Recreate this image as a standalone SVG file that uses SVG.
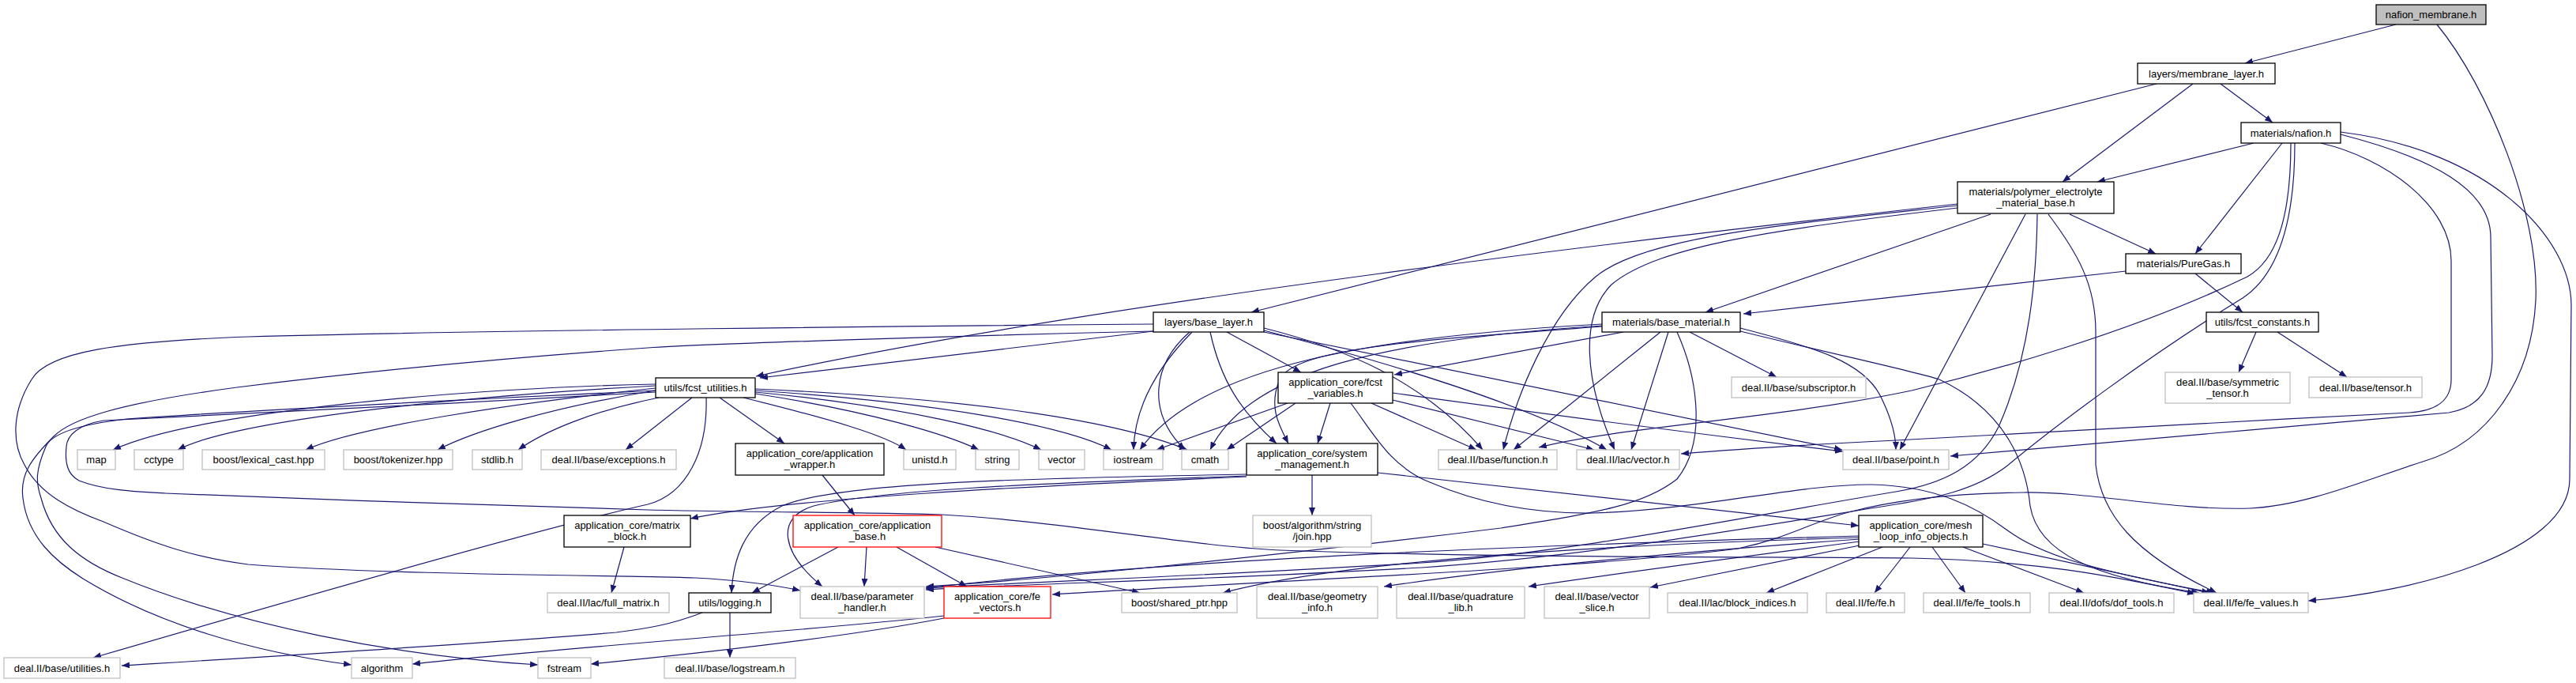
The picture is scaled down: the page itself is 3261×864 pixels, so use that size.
<svg xmlns="http://www.w3.org/2000/svg" width="3261" height="864" viewBox="0 0 3261 864">
<defs>
<marker id="a" markerWidth="10" markerHeight="8" refX="10" refY="4" orient="auto" markerUnits="userSpaceOnUse"><path d="M0,0 L10,4 L0,8 z" fill="#191970"/></marker>
<style>
.e path{fill:none;stroke:#191970;stroke-width:1.2;marker-end:url(#a)}
.n rect{fill:#fff;stroke:#000;stroke-width:1.3}
.g rect{fill:#fff;stroke:#bfbfbf;stroke-width:1.3}
.r rect{fill:#fff;stroke:#ff0000;stroke-width:1.3}
.root rect{fill:#bfbfbf;stroke:#000;stroke-width:1.3}
text{font-family:"Liberation Sans",Arial,sans-serif;font-size:13px;text-anchor:middle;fill:#000}
</style>
</defs>
<rect width="3261" height="864" fill="#fff"/>
<g id="edges" class="e">
<path d="M3033,31 L2842,80"/>
<path d="M3085,31 C3150,110 3215,270 3210,380 C3205,480 3150,560 3067,584 C3000,605 2920,640 2848,643 C2750,646 2650,622 2561,623 C2470,624 2400,632 2340,648 C2290,662 2265,680 2200,694 C2000,720 1600,735 1332,752"/>
<path d="M2730,106 L1584,395"/>
<path d="M2776,106 L2611,230"/>
<path d="M2811,106 L2877,155"/>
<path d="M2853,181 L2655,230"/>
<path d="M2889,181 L2779,321"/>
<path d="M2900,181 C2900,280 2880,330 2845,350 C2700,420 2520,470 2420,494 C2250,530 2050,540 1948,566"/>
<path d="M2905,181 C2905,290 2880,350 2839,377 C2720,450 2600,540 2540,590 C2500,620 2450,630 2400,638 C2200,670 2000,705 1800,718 C1500,735 1300,738 1172,746"/>
<path d="M2938,181 C3020,200 3103,260 3103,330 L3103,480 C3103,510 3080,520 3050,522 C2800,535 2500,550 2400,557 C2300,562 2200,568 2128,574"/>
<path d="M2963,170 C3080,200 3153,240 3153,300 L3155,450 C3155,490 3140,515 3100,522 C2900,540 2600,565 2469,577"/>
<path d="M2963,167 C3150,190 3255,300 3255,386 L3253,606 C3253,700 3050,750 2922,760"/>
<path d="M2478,258 C2100,300 1400,380 957,476"/>
<path d="M2478,260 C2250,285 2080,300 2020,350 C1960,400 1920,500 1903,569"/>
<path d="M2478,263 C2250,290 2100,310 2040,360 C2000,400 2005,480 2044,569"/>
<path d="M2520,271 L2159,395"/>
<path d="M2564,271 L2405,569"/>
<path d="M2579,271 C2578,350 2570,450 2530,540 C2505,590 2460,612 2400,622 C2200,655 2000,698 1800,712 C1500,730 1300,736 1172,744"/>
<path d="M2593,271 C2630,320 2653,360 2653,420 L2653,588 C2660,650 2700,700 2806,750"/>
<path d="M2620,271 L2729,321"/>
<path d="M2691,343 L2207,397"/>
<path d="M2779,346 L2839,395"/>
<path d="M2856,420 L2834,471"/>
<path d="M2883,420 L2971,477"/>
<path d="M2055,420 L1765,474"/>
<path d="M2028,413 C1800,430 1640,440 1620,480 C1605,515 1620,540 1631,561"/>
<path d="M2028,410 C1750,425 1520,460 1443,569"/>
<path d="M2028,412 C1750,430 1580,470 1532,569"/>
<path d="M2102,420 L1916,569"/>
<path d="M2112,420 L2065,569"/>
<path d="M2139,420 L2249,477"/>
<path d="M2203,415 C2300,440 2358,458 2380,500 C2395,530 2400,550 2400,569"/>
<path d="M2203,419 C2330,450 2420,469 2455,480 C2540,520 2565,588 2570,640 C2580,700 2650,730 2784,750"/>
<path d="M2123,420 C2150,480 2160,560 2123,606 C2080,640 2018,649 1900,668 C1600,705 1300,735 1172,742"/>
<path d="M1460,419 L962,478"/>
<path d="M1460,410 C1200,412 600,418 314,426 C150,432 60,445 40,480 C15,520 15,560 31,588 C50,625 90,645 131,660 C200,690 250,706 314,714 C500,728 820,728 880,731 C940,734 980,740 1013,747"/>
<path d="M1460,419 C1200,425 900,435 820,440 C650,452 470,469 300,490 C150,510 90,530 68,552 C40,580 25,600 29,630 C35,680 70,710 105,732 C200,790 320,825 445,841"/>
<path d="M830,494 C600,505 300,520 160,530 C100,537 65,548 58,565 C45,595 45,610 52,630 C65,680 100,710 157,732 C300,790 500,830 681,841"/>
<path d="M830,496 C600,510 250,525 131,532 C100,537 85,550 84,565 C82,585 85,600 100,608 C130,620 170,622 209,624 C400,632 700,642 820,645 C950,648 1100,648 1192,651 C1350,660 1500,690 1620,696 C1900,706 2200,704 2420,706 C2600,710 2700,735 2779,751"/>
<path d="M1509,420 C1460,470 1436,520 1435,569"/>
<path d="M1506,420 C1460,460 1450,520 1500,569"/>
<path d="M1532,420 C1545,480 1570,520 1616,561"/>
<path d="M1553,420 L1647,471"/>
<path d="M1600,415 C1700,440 1800,480 1877,569"/>
<path d="M1600,418 C1800,470 1950,520 2034,569"/>
<path d="M1600,420 C1900,480 2200,540 2332,569"/>
<path d="M830,486 C600,490 250,520 143,569"/>
<path d="M830,488 C600,500 300,530 225,569"/>
<path d="M830,491 C650,510 450,540 387,569"/>
<path d="M830,494 C700,515 600,545 554,569"/>
<path d="M834,503 C750,520 690,545 656,569"/>
<path d="M876,503 L792,569"/>
<path d="M911,503 L993,561"/>
<path d="M941,503 C1050,530 1120,550 1147,569"/>
<path d="M956,498 C1100,520 1200,550 1239,569"/>
<path d="M956,496 C1150,515 1270,545 1318,569"/>
<path d="M956,494 C1200,510 1350,540 1407,569"/>
<path d="M956,492 C1250,505 1420,535 1503,569"/>
<path d="M894,503 C896,570 870,625 820,638 C700,665 400,750 118,832"/>
<path d="M1661,601 L1661,652"/>
<path d="M1578,603 C1300,615 1000,630 874,656"/>
<path d="M1578,600 C1300,605 1061,610 990,640 C940,665 928,710 926,750"/>
<path d="M1578,602 C1300,612 1114,620 1030,640 C980,655 990,700 1041,742"/>
<path d="M1744,598 L2353,665"/>
<path d="M1684,510 L1668,561"/>
<path d="M1630,510 L1464,569"/>
<path d="M1640,510 L1553,569"/>
<path d="M1736,510 L1869,569"/>
<path d="M1763,506 L2018,569"/>
<path d="M1763,497 C2000,530 2200,555 2333,571"/>
<path d="M1710,510 C1740,550 1760,590 1810,610 C1880,640 1950,650 2018,649 C2150,645 2280,612 2370,613 C2450,615 2500,640 2540,670 C2580,700 2640,720 2803,750"/>
<path d="M1041,601 L1082,652"/>
<path d="M1061,692 L952,750"/>
<path d="M1097,692 L1094,742"/>
<path d="M1135,692 L1224,742"/>
<path d="M1184,692 L1443,750"/>
<path d="M790,692 L774,750"/>
<path d="M889,775 C850,790 820,795 780,800 C600,815 350,830 154,842"/>
<path d="M924,775 L924,832"/>
<path d="M1195,779 C1000,800 700,820 522,840"/>
<path d="M1195,782 C1050,810 850,830 748,840"/>
<path d="M2383,692 L2236,750"/>
<path d="M2418,692 L2373,750"/>
<path d="M2446,692 L2488,750"/>
<path d="M2485,692 L2638,750"/>
<path d="M2510,688 L2797,750"/>
<path d="M2354,690 L2089,743"/>
<path d="M2354,685 C2200,705 2050,725 1935,742"/>
<path d="M2354,682 C2100,700 1900,720 1752,742"/>
<path d="M2354,680 C2000,690 1700,710 1548,750"/>
<path d="M2353,678 C2000,688 1500,705 1172,744"/>
</g>
<g id="n_root" class="root"><rect x="3008" y="6" width="139" height="25"/><text x="3077.5" y="23">nafion_membrane.h</text></g>
<g id="n_membrane_layer" class="n"><rect x="2706" y="80" width="174" height="26"/><text x="2793" y="97.5">layers/membrane_layer.h</text></g>
<g id="n_nafion" class="n"><rect x="2837" y="155" width="126" height="26"/><text x="2900" y="172.5">materials/nafion.h</text></g>
<g id="n_polymer" class="n"><rect x="2478" y="230" width="198" height="40"/><text x="2577" y="247">materials/polymer_electrolyte</text><text x="2577" y="261">_material_base.h</text></g>
<g id="n_puregas" class="n"><rect x="2691" y="321" width="146" height="25"/><text x="2764" y="338">materials/PureGas.h</text></g>
<g id="n_base_layer" class="n"><rect x="1460" y="395" width="140" height="25"/><text x="1530" y="412">layers/base_layer.h</text></g>
<g id="n_base_material" class="n"><rect x="2028" y="395" width="175" height="25"/><text x="2115.5" y="412">materials/base_material.h</text></g>
<g id="n_fcst_constants" class="n"><rect x="2793" y="395" width="142" height="25"/><text x="2864" y="412">utils/fcst_constants.h</text></g>
<g id="n_fcst_utilities" class="n"><rect x="830" y="478" width="126" height="25"/><text x="893" y="495">utils/fcst_utilities.h</text></g>
<g id="n_fcst_variables" class="n"><rect x="1618" y="471" width="145" height="39"/><text x="1690.5" y="487.5">application_core/fcst</text><text x="1690.5" y="501.5">_variables.h</text></g>
<g id="n_subscriptor" class="g"><rect x="2192" y="477" width="170" height="26"/><text x="2277" y="494.5">deal.II/base/subscriptor.h</text></g>
<g id="n_symmetric_tensor" class="g"><rect x="2741" y="471" width="158" height="39"/><text x="2820" y="487.5">deal.II/base/symmetric</text><text x="2820" y="501.5">_tensor.h</text></g>
<g id="n_tensor" class="g"><rect x="2923" y="477" width="143" height="26"/><text x="2994.5" y="494.5">deal.II/base/tensor.h</text></g>
<g id="n_map" class="g"><rect x="98" y="569" width="48" height="25"/><text x="122" y="586">map</text></g>
<g id="n_cctype" class="g"><rect x="170" y="569" width="62" height="25"/><text x="201" y="586">cctype</text></g>
<g id="n_lexical_cast" class="g"><rect x="256" y="569" width="155" height="25"/><text x="333.5" y="586">boost/lexical_cast.hpp</text></g>
<g id="n_tokenizer" class="g"><rect x="435" y="569" width="138" height="25"/><text x="504" y="586">boost/tokenizer.hpp</text></g>
<g id="n_stdlib" class="g"><rect x="598" y="569" width="63" height="25"/><text x="629.5" y="586">stdlib.h</text></g>
<g id="n_exceptions" class="g"><rect x="685" y="569" width="171" height="25"/><text x="770.5" y="586">deal.II/base/exceptions.h</text></g>
<g id="n_application_wrapper" class="n"><rect x="931" y="561" width="188" height="40"/><text x="1025" y="578">application_core/application</text><text x="1025" y="592">_wrapper.h</text></g>
<g id="n_unistd" class="g"><rect x="1144" y="569" width="66" height="25"/><text x="1177" y="586">unistd.h</text></g>
<g id="n_string" class="g"><rect x="1235" y="569" width="55" height="25"/><text x="1262.5" y="586">string</text></g>
<g id="n_vector" class="g"><rect x="1315" y="569" width="58" height="25"/><text x="1344" y="586">vector</text></g>
<g id="n_iostream" class="g"><rect x="1397" y="569" width="75" height="25"/><text x="1434.5" y="586">iostream</text></g>
<g id="n_cmath" class="g"><rect x="1496" y="569" width="59" height="25"/><text x="1525.5" y="586">cmath</text></g>
<g id="n_system_management" class="n"><rect x="1578" y="561" width="166" height="40"/><text x="1661" y="578">application_core/system</text><text x="1661" y="592">_management.h</text></g>
<g id="n_function" class="g"><rect x="1821" y="569" width="150" height="25"/><text x="1896" y="586">deal.II/base/function.h</text></g>
<g id="n_lac_vector" class="g"><rect x="1996" y="569" width="130" height="25"/><text x="2061" y="586">deal.II/lac/vector.h</text></g>
<g id="n_point" class="g"><rect x="2333" y="569" width="134" height="25"/><text x="2400" y="586">deal.II/base/point.h</text></g>
<g id="n_matrix_block" class="n"><rect x="714" y="652" width="160" height="40"/><text x="794" y="669">application_core/matrix</text><text x="794" y="683">_block.h</text></g>
<g id="n_application_base" class="r"><rect x="1004" y="652" width="188" height="40"/><text x="1098" y="669">application_core/application</text><text x="1098" y="683">_base.h</text></g>
<g id="n_join" class="g"><rect x="1586" y="652" width="150" height="40"/><text x="1661" y="669">boost/algorithm/string</text><text x="1661" y="683">/join.hpp</text></g>
<g id="n_mesh_loop" class="n"><rect x="2353" y="652" width="157" height="40"/><text x="2431.5" y="669">application_core/mesh</text><text x="2431.5" y="683">_loop_info_objects.h</text></g>
<g id="n_full_matrix" class="g"><rect x="693" y="750" width="154" height="25"/><text x="770" y="767">deal.II/lac/full_matrix.h</text></g>
<g id="n_logging" class="n"><rect x="872" y="750" width="104" height="25"/><text x="924" y="767">utils/logging.h</text></g>
<g id="n_parameter_handler" class="g"><rect x="1013" y="742" width="157" height="40"/><text x="1091.5" y="759">deal.II/base/parameter</text><text x="1091.5" y="773">_handler.h</text></g>
<g id="n_fe_vectors" class="r"><rect x="1195" y="742" width="135" height="40"/><text x="1262.5" y="759">application_core/fe</text><text x="1262.5" y="773">_vectors.h</text></g>
<g id="n_shared_ptr" class="g"><rect x="1420" y="750" width="146" height="25"/><text x="1493" y="767">boost/shared_ptr.hpp</text></g>
<g id="n_geometry_info" class="g"><rect x="1591" y="742" width="153" height="40"/><text x="1667.5" y="759">deal.II/base/geometry</text><text x="1667.5" y="773">_info.h</text></g>
<g id="n_quadrature_lib" class="g"><rect x="1768" y="742" width="162" height="40"/><text x="1849" y="759">deal.II/base/quadrature</text><text x="1849" y="773">_lib.h</text></g>
<g id="n_vector_slice" class="g"><rect x="1955" y="742" width="133" height="40"/><text x="2021.5" y="759">deal.II/base/vector</text><text x="2021.5" y="773">_slice.h</text></g>
<g id="n_block_indices" class="g"><rect x="2111" y="750" width="177" height="25"/><text x="2199.5" y="767">deal.II/lac/block_indices.h</text></g>
<g id="n_fe" class="g"><rect x="2312" y="750" width="99" height="25"/><text x="2361.5" y="767">deal.II/fe/fe.h</text></g>
<g id="n_fe_tools" class="g"><rect x="2435" y="750" width="135" height="25"/><text x="2502.5" y="767">deal.II/fe/fe_tools.h</text></g>
<g id="n_dof_tools" class="g"><rect x="2594" y="750" width="158" height="25"/><text x="2673" y="767">deal.II/dofs/dof_tools.h</text></g>
<g id="n_fe_values" class="g"><rect x="2777" y="750" width="145" height="25"/><text x="2849.5" y="767">deal.II/fe/fe_values.h</text></g>
<g id="n_utilities" class="g"><rect x="5" y="832" width="147" height="26"/><text x="78.5" y="849.5">deal.II/base/utilities.h</text></g>
<g id="n_algorithm" class="g"><rect x="445" y="832" width="77" height="26"/><text x="483.5" y="849.5">algorithm</text></g>
<g id="n_fstream" class="g"><rect x="681" y="832" width="67" height="26"/><text x="714.5" y="849.5">fstream</text></g>
<g id="n_logstream" class="g"><rect x="841" y="832" width="166" height="26"/><text x="924" y="849.5">deal.II/base/logstream.h</text></g>
</svg>
